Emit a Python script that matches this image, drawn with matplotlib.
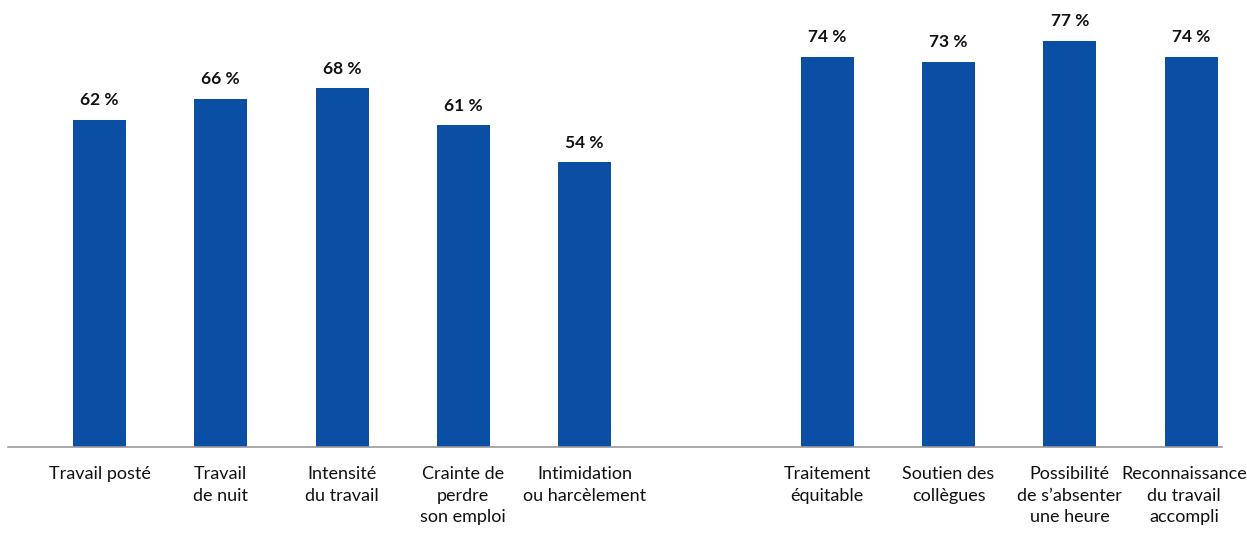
import numpy as np
import matplotlib.pyplot as plt
from matplotlib.transforms import ScaledTranslation

plt.rcParams['font.family'] = ['Lato', 'DejaVu Sans']

categories = ["Travail posté", "Travail\nde nuit", "Intensité\ndu travail",
              "Crainte de\nperdre\nson emploi", "Intimidation\nou harcèlement",
              "",
              "Traitement\néquitable", "Soutien des\ncollègues",
              "Possibilité\nde s\u2019absenter\nune heure",
              "Reconnaissance\ndu travail\naccompli"]
values = [62, 66, 68, 61, 54, None, 74, 73, 77, 74]

fig = plt.figure(figsize=(12.47, 5.36), dpi=100)
ax = fig.add_axes([8 / 1247, 89 / 536, 1214 / 1247, 443 / 536])

x = np.arange(len(categories))
for i, v in enumerate(values):
    if v is None:
        continue
    ax.bar(x[i], v, width=0.437, color='#0a4fa3')
    ax.text(x[i], v + 2.2, "%d %%" % v, ha='center', va='bottom',
            fontsize=12.5, fontweight='bold', color='#111111')

ax.set_xlim(-0.754, 9.254)
ax.set_ylim(0, 84)
ax.set_xticks(x)
labels = ax.set_xticklabels(categories, fontsize=13, linespacing=1.42, color='#111111')
ax.tick_params(axis='x', length=0, pad=14)
# last label sits against the right edge, pull it in a little
labels[-1].set_transform(labels[-1].get_transform() +
                         ScaledTranslation(-0.07, 0, fig.dpi_scale_trans))
ax.set_yticks([])
for s in ['top', 'right', 'left']:
    ax.spines[s].set_visible(False)
ax.spines['bottom'].set_color('#999999')
ax.spines['bottom'].set_linewidth(1.2)

fig.savefig('out.png', dpi=100)
